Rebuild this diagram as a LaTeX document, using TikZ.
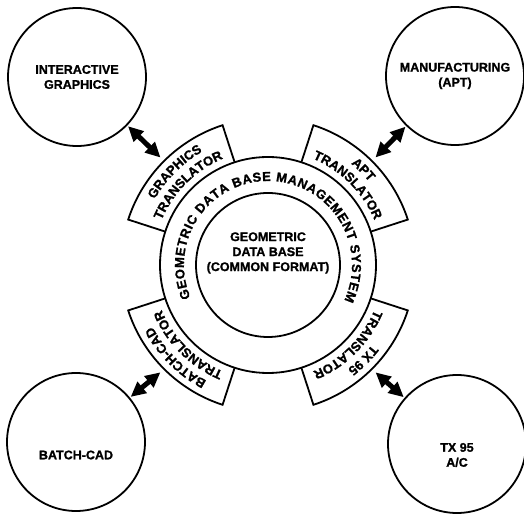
\documentclass[tikz,border=0pt]{standalone}
\usepackage{fontspec}
\setmainfont{Liberation Sans}[BoldFeatures={FakeBold=1.2}]
\usetikzlibrary{arrows.meta,decorations.text,calc}

% fonts for the different labels
\newcommand\stfont{\bfseries\fontsize{12.5}{15}\selectfont}
\newcommand\trfont{\bfseries\fontsize{13}{13}\selectfont}
\newcommand\ringfont{\bfseries\fontsize{13}{13}\selectfont}

\tikzset{
  outline/.style={line width=1.8pt},
  station/.style={circle,draw,line width=1.8pt,minimum size=138pt,inner sep=0pt},
  stationtext/.style={font=\stfont,align=center,inner sep=0pt},
  dblarrow/.style={line width=5pt,
    {Triangle[length=15pt,width=14pt]}-{Triangle[length=15pt,width=14pt]},
    shorten <=1pt,shorten >=2pt},
}

% one curved line of text inside a translator sector, centred on angle #1
\newcommand\trline[3]{%
  \path[shift={(C)},decorate,decoration={text along path,text align=center,
    text={|\trfont|#3}}] (#1+30:#2) arc[start angle=#1+30,end angle=#1-30,radius=#2];}

\begin{document}
\begin{tikzpicture}[x=1pt,y=1pt]
\useasboundingbox (0,0) rectangle (524,522);
\coordinate (C) at (268,257);

% translator sectors around the management ring
\foreach \a in {135,45,225,315}{
  \draw[outline,fill=white,shift={(C)}] (\a+27:108) -- (\a+27:147)
    arc[start angle=\a+27,end angle=\a-27,radius=147] -- (\a-27:108);
}

% management ring and the common data base
\node[circle,draw,outline,fill=white,minimum size=216pt,inner sep=0pt] (dbms) at (C) {};
\node[circle,draw,outline,minimum size=144pt,inner sep=0pt] (db) at (C) {};
\node[stationtext] (dbtext) at ($(C)+(0,12)$)
  {GEOMETRIC\\DATA BASE\\(COMMON FORMAT)};

% ring caption
\path[shift={(C)},decorate,decoration={text along path,text align=fit to path,
  text={|\ringfont|GEOMETRIC DATA BASE MANAGEMENT SYSTEM}}]
  (203:84) arc[start angle=203,end angle=-25,radius=84];

% translator captions
\trline{135}{131}{GRAPHICS}
\trline{135}{115.5}{TRANSLATOR}
\trline{45}{131}{APT}
\trline{45}{115.5}{TRANSLATOR}
\trline{225}{131}{BATCH-CAD}
\trline{225}{115.5}{TRANSLATOR}
\trline{315}{131}{TX 95}
\trline{315}{115.5}{TRANSLATOR}

% outer systems
\node[station] (ig) at (77,445) {};
\node[stationtext] (igtext) at (ig) {INTERACTIVE\\GRAPHICS};
\node[station] (mfg) at (455,446) {};
\node[stationtext] (mfgtext) at (mfg) {MANUFACTURING\\(APT)};
\node[station] (bc) at (76,80) {};
\node[stationtext] (bctext) at ($(bc)+(0,-13)$) {BATCH-CAD};
\node[station] (tx) at (457,78) {};
\node[stationtext] (txtext) at ($(tx)+(0,-11)$) {TX 95\\A/C};

% attachment points on the translator sectors
\coordinate (gtp) at ($(C)+(135:150)$);
\coordinate (atp) at ($(C)+(45:150)$);
\coordinate (btp) at ($(C)+(225:150)$);
\coordinate (ttp) at ($(C)+(315:150)$);

% two-way data exchange
\draw[dblarrow] (ig) -- (gtp);
\draw[dblarrow] (mfg) -- (atp);
\draw[dblarrow] (bc) -- (btp);
\draw[dblarrow] (tx) -- (ttp);
\end{tikzpicture}
\end{document}
